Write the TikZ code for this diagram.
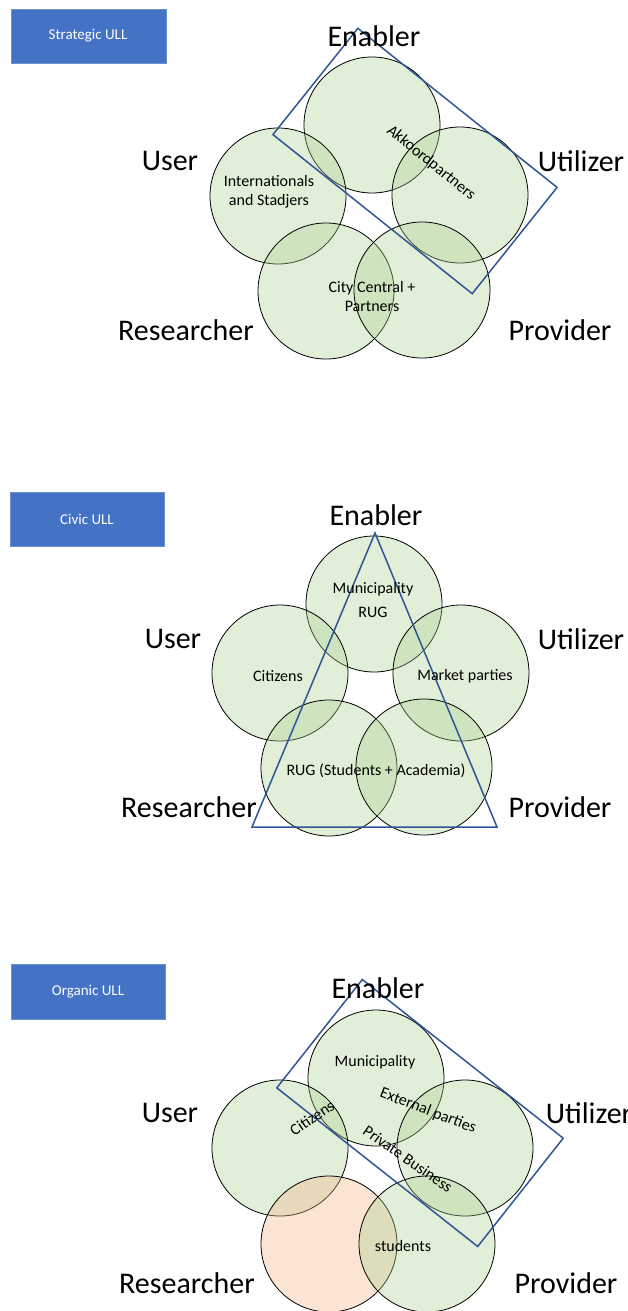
\documentclass[tikz,border=0pt]{standalone}
\usepackage{fontspec}
\setmainfont{Carlito}
\usepackage{xcolor}
\usepackage{tikz}
\usetikzlibrary{positioning}

\definecolor{ullblue}{HTML}{4472C4}
\definecolor{ullframe}{HTML}{6F8FCF}
\definecolor{groupblue}{HTML}{2F5597}
\definecolor{rolegreen}{HTML}{A9D18E}
\definecolor{roleorange}{HTML}{F4B183}

\tikzset{
    ulltype/.style={fill=ullblue, draw=ullframe, line width=0.6pt},
    ulltext/.style={text=white, font=\fontsize{15}{17}\selectfont},
    role/.style={circle, draw=black, line width=0.8pt, fill=rolegreen,
        fill opacity=0.35, text opacity=1, minimum size=136pt, inner sep=0pt},
    roleres/.style={role, fill=roleorange},
    rolename/.style={font=\fontsize{30}{32}\selectfont, inner sep=0pt},
    actor/.style={font=\fontsize{16}{19}\selectfont, align=center, inner sep=0pt},
    group/.style={draw=groupblue, line width=1.5pt, inner sep=0pt}
}

\begin{document}
\begin{tikzpicture}[x=1pt, y=-1pt]
        \useasboundingbox (0,0) rectangle (628,1311);
        % strategic
        \begin{scope}
            \draw[ulltype] (11,9) rectangle (166,63);
            \node[ulltext] (sType) at (88,36) {Strategic ULL};
            \node[role] (sEnabler) at (372,125) {};
            \node[role] (sUser) at (278,196) {};
            \node[role] (sUtilizer) at (460,195) {};
            \node[role] (sResearcher) at (326,291) {};
            \node[role] (sProvider) at (422,290) {};
            \node[group, rotate=-38.6, minimum width=255pt, minimum height=136pt] (sGroup) at (415,161) {};
            \node[rolename] (sEnablerName) at (374,36) {Enabler};
            \node[rolename] (sUserName) at (170,161) {User};
            \node[rolename] (sUtilizerName) at (581,161) {Utilizer};
            \node[rolename] (sResearcherName) at (186,330) {Researcher};
            \node[rolename] (sProviderName) at (560,330) {Provider};
            \node[actor] (sInter) at (269,192) {Internationals\\and Stadjers};
            \node[actor] (sCity) at (372,297) {City Central +\\Partners};
            \node[actor, rotate=-39] (sAkkoord) at (431,163) {Akkoordpartners};
        \end{scope}
        % civic
        \begin{scope}
            \draw[ulltype] (10,492) rectangle (164,546);
            \node[ulltext] (cType) at (87,519) {Civic ULL};
            \node[role] (cEnabler) at (374,604) {};
            \node[role] (cUser) at (280,673) {};
            \node[role] (cUtilizer) at (461,673) {};
            \node[role] (cResearcher) at (329,768) {};
            \node[role] (cProvider) at (424,767) {};
            \coordinate (cTop) at (375,533);
            \coordinate (cLeft) at (252,827);
            \coordinate (cRight) at (497,827);
            \draw[group] (cTop) -- (cLeft) -- (cRight) -- cycle;
            \node[rolename] (cEnablerName) at (376,515) {Enabler};
            \node[rolename] (cUserName) at (173,639) {User};
            \node[rolename] (cUtilizerName) at (581,639) {Utilizer};
            \node[rolename] (cResearcherName) at (189,807) {Researcher};
            \node[rolename] (cProviderName) at (560,807) {Provider};
            \node[actor] (cMuni) at (373,600) {Municipality\\[5pt]RUG};
            \node[actor] (cCitizens) at (278,676) {Citizens};
            \node[actor] (cMarket) at (465,676) {Market parties};
            \node[actor] (cRug) at (376,771) {RUG (Students + Academia)};
        \end{scope}
        % organic
        \begin{scope}
            \draw[ulltype] (11,964) rectangle (165,1019);
            \node[ulltext] (oType) at (88,992) {Organic ULL};
            \node[role] (oEnabler) at (376,1078) {};
            \node[role] (oUser) at (280,1148) {};
            \node[role] (oUtilizer) at (465,1148) {};
            \node[roleres] (oResearcher) at (329,1244) {};
            \node[role] (oProvider) at (427,1244) {};
            \node[group, rotate=-38.3, minimum width=256pt, minimum height=138pt] (oGroup) at (420,1113) {};
            \node[rolename] (oEnablerName) at (378,988) {Enabler};
            \node[rolename] (oUserName) at (170,1113) {User};
            \node[rolename] (oUtilizerName) at (589,1113) {Utilizer};
            \node[rolename] (oResearcherName) at (187,1283) {Researcher};
            \node[rolename] (oProviderName) at (566,1283) {Provider};
            \node[actor] (oMuni) at (375,1062) {Municipality};
            \node[actor, rotate=34] (oCitizens) at (312,1118) {Citizens};
            \node[actor, rotate=-21] (oExternal) at (428,1111) {External parties};
            \node[actor, rotate=-35] (oPrivate) at (408,1159) {Private Business};
            \node[actor] (oStudents) at (403,1246) {students};
        \end{scope}
    \end{tikzpicture}
\end{document}
